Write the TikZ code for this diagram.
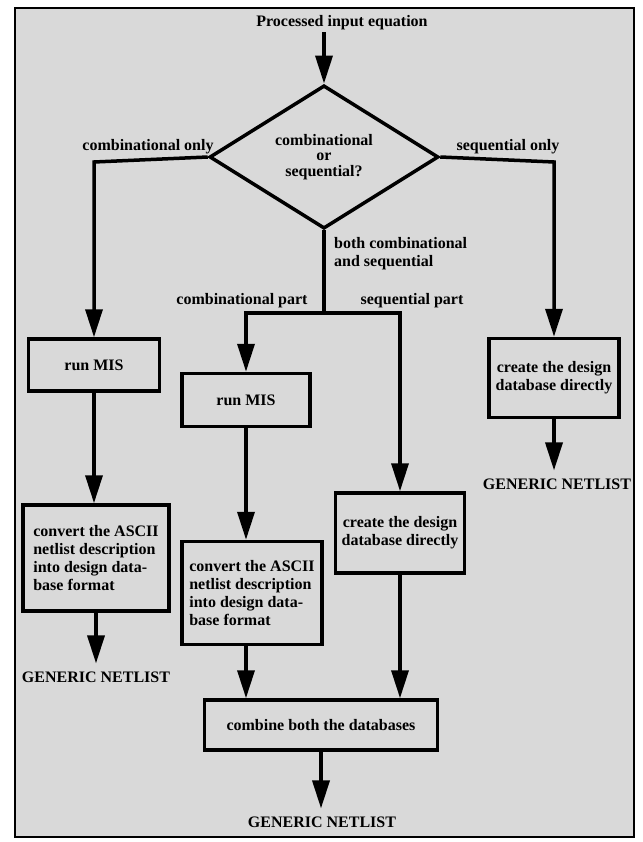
\documentclass[tikz,border=0pt]{standalone}
\usepackage{fontspec}
\setmainfont{Liberation Serif}
\usetikzlibrary{arrows.meta,shapes.geometric}
\begin{document}
\begin{tikzpicture}[x=1pt,y=-1pt,
  lbl/.style={font=\bfseries\fontsize{16}{18}\selectfont, inner sep=0pt},
  gen/.style={lbl, inner ysep=8pt},
  proc/.style={draw, line width=3.5pt, font=\bfseries\fontsize{16}{18}\selectfont, inner sep=0pt, align=center},
  conn/.style={line width=3.5pt},
  arr/.style={conn, -{Triangle[length=28pt,width=17pt]}},
]
\useasboundingbox (0,0) rectangle (642,842);
\fill[white] (0,0) rectangle (642,842);
\draw[line width=2.5pt, fill=black!15] (15,8) rectangle (634,837);

\node[lbl, inner ysep=2pt] (title) at (342,23) {Processed input equation};
\node[draw, diamond, line width=3.5pt, minimum width=229pt, minimum height=133pt, inner sep=0pt, align=center, font=\bfseries\fontsize{16}{15.5}\selectfont] (dec) at (324,157) {combinational\\or\\sequential?};

\node[proc, minimum width=131pt, minimum height=52pt] (mis1) at (94,365) {run MIS};
\node[proc, minimum width=146pt, minimum height=106pt, align=left] (conv1) at (96,558) {convert the ASCII\\netlist description\\into design data-\\base format};
\node[gen] (gen1) at (96,677) {GENERIC NETLIST};

\node[proc, minimum width=128pt, minimum height=53pt] (mis2) at (246,400) {run MIS};
\node[proc, minimum width=140pt, minimum height=103pt, align=left] (conv2) at (252,593) {convert the ASCII\\netlist description\\into design data-\\base format};
\node[proc, minimum width=129pt, minimum height=80pt] (seq2) at (400,533) {create the design\\database directly};
\node[proc, minimum width=233pt, minimum height=50pt] (comb) at (321,725) {combine both the databases};
\node[gen] (gen3) at (322,822) {GENERIC NETLIST};

\node[proc, minimum width=130pt, minimum height=79pt] (seq1) at (554,378) {create the design\\database directly};
\node[gen] (gen2) at (557,484) {GENERIC NETLIST};

\node[lbl] (lco) at (148,147) {combinational only};
\node[lbl] (lso) at (508,147) {sequential only};
\node[lbl, align=left, anchor=west] (lboth) at (334,254) {both combinational\\and sequential};
\node[lbl] (lcp) at (242,301) {combinational part};
\node[lbl] (lsp) at (412,301) {sequential part};

\coordinate (lc) at (94,162);
\coordinate (rc) at (554,162);
\coordinate (bm) at (324,313);

\draw[arr] (dec.north |- title.south) -- (dec.north);
\draw[arr] (dec.west) -- (lc) -- (mis1.north);
\draw[arr] (dec.east) -- (rc) -- (seq1.north);
\draw[arr] (dec.south) -- (bm) -| (mis2.north);
\draw[arr] (bm) -| (seq2.north);

\draw[arr] (mis1.south) -- (mis1.south |- conv1.north);
\draw[arr] (conv1.south) -- (gen1.north);
\draw[arr] (mis2.south) -- (mis2.south |- conv2.north);
\draw[arr] (mis2.south |- conv2.south) -- (mis2.south |- comb.north);
\draw[arr] (seq2.south) -- (seq2.south |- comb.north);
\draw[arr] (comb.south) -- (comb.south |- gen3.north);
\draw[arr] (seq1.south) -- (seq1.south |- gen2.north);
\end{tikzpicture}
\end{document}
